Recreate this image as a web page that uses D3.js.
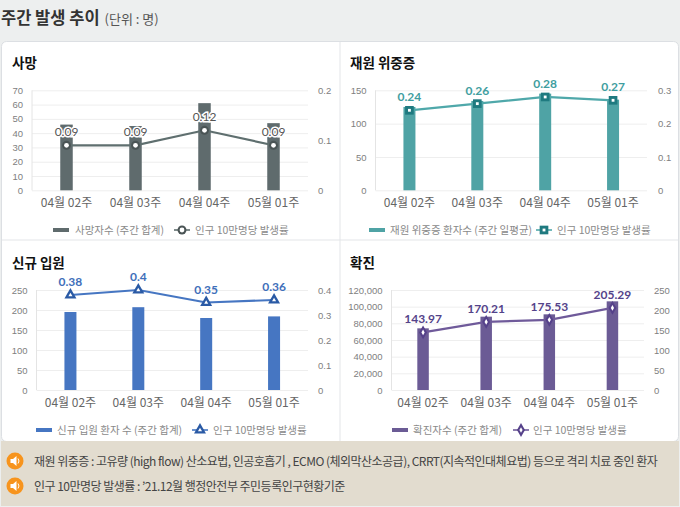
<!DOCTYPE html>
<html>
<head>
<meta charset="utf-8">
<script src="https://cdn.jsdelivr.net/npm/d3@7/dist/d3.min.js"></script>
<style>
    html, body { margin: 0; padding: 0; background: #edefef; }
    svg { display: block; font-family: "Lato", "Noto Sans CJK KR", sans-serif; }
    .kr { font-family: "Noto Sans CJK KR", sans-serif; }
    .domain { display: none; }
    .tick text { fill: #808080; font-size: 9.5px; }
    .x-axis .tick text { fill: #666; font-size: 12px; }
    .legend { fill: #8a8a8a; font-size: 10.5px; }
</style>
</head>
<body>
<svg id="chart" width="680" height="507"></svg>
<script>
// DATA
const weeks = ['04월 02주', '04월 03주', '04월 04주', '05월 01주'];

const deathBars = [46, 45, 61, 47];
const deathRates = [0.09, 0.09, 0.12, 0.09];
const deathTicks = [0, 10, 20, 30, 40, 50, 60, 70];
const deathRateTicks = [0, 0.1, 0.2];

const severeBars = [125, 134, 145, 136];
const severeRates = [0.24, 0.26, 0.28, 0.27];
const severeTicks = [0, 50, 100, 150];
const severeRateTicks = [0, 0.1, 0.2, 0.3];

const admitBars = [195, 207, 180, 184];
const admitRates = [0.38, 0.4, 0.35, 0.36];
const admitTicks = [0, 50, 100, 150, 200, 250];
const admitRateTicks = [0, 0.1, 0.2, 0.3, 0.4];

const caseBars = [74000, 88000, 90800, 106400];
const caseRates = [143.97, 170.21, 175.53, 205.29];
const caseTicks = [0, 20000, 40000, 60000, 80000, 100000, 120000];
const caseRateTicks = [0, 50, 100, 150, 200, 250];

const notes = [
    '재원 위중증 : 고유량 (high flow) 산소요법, 인공호흡기 , ECMO (체외막산소공급), CRRT(지속적인대체요법) 등으로 격리 치료 중인 환자',
    '인구 10만명당 발생률 : ’21.12월 행정안전부 주민등록인구현황기준'
];

const svg = d3.select('#chart');

// PAGE TITLE
const heading = svg.append('text').attr('x', 1).attr('y', 24);
heading.append('tspan').attr('class', 'kr').attr('font-size', 16.5).attr('font-weight', 700).attr('fill', '#333').text('주간 발생 추이');
heading.append('tspan').attr('class', 'kr').attr('dx', 5).attr('font-size', 13).attr('fill', '#555').text('(단위 : 명)');

// PANEL BACKGROUND
svg.append('rect').attr('x', 1.5).attr('y', 41.5).attr('width', 677).attr('height', 400)
    .attr('rx', 5).attr('fill', '#fff').attr('stroke', '#dcdfe3');
svg.append('line').attr('x1', 340).attr('x2', 340).attr('y1', 42).attr('y2', 441).attr('stroke', '#e3e5e8');
svg.append('line').attr('x1', 2).attr('x2', 678).attr('y1', 240).attr('y2', 240).attr('stroke', '#e3e5e8');

// FOOTER
svg.append('rect').attr('x', 1).attr('y', 441).attr('width', 678).attr('height', 65).attr('fill', '#e2dccf');
notes.forEach((note, i) => {
    const cy = 461 + i * 25;
    svg.append('circle').attr('cx', 15).attr('cy', cy).attr('r', 8.5).attr('fill', '#f7941d');
    svg.append('path')
        .attr('d', `M10.5 ${cy - 2}h2.5l3.5 -3v10l-3.5 -3h-2.5z`)
        .attr('fill', '#fff');
    svg.append('path')
        .attr('d', `M18 ${cy - 2.5}q2 2.5 0 5`)
        .attr('fill', 'none').attr('stroke', '#fff');
    svg.append('text').attr('class', 'kr')
        .attr('x', 34).attr('y', cy + 4.5)
        .attr('font-size', 12).attr('letter-spacing', -0.52).attr('fill', '#444')
        .text(note);
});

const symbols = {
    circle: { type: d3.symbolCircle, size: 62, inner: 18 },
    square: { type: d3.symbolSquare, size: 75, inner: 8 },
    triangle: { type: d3.symbolTriangle, size: 62, inner: 7 },
    diamond: { type: d3.symbolDiamond, size: 55, inner: 9 }
};

function drawPanel(p) {
    const g = svg.append('g');

    g.append('text').attr('class', 'kr')
        .attr('x', p.titleX).attr('y', p.titleY)
        .attr('font-size', 13.5).attr('font-weight', 700).attr('fill', '#111')
        .text(p.title);

    const x = d3.scaleBand().domain(weeks).range([p.left, p.right]);
    const yBar = d3.scaleLinear().domain([0, d3.max(p.ticks)]).range([p.bottom, p.top]);
    const yRate = d3.scaleLinear().domain([0, d3.max(p.rateTicks)]).range([p.bottom, p.top]);

    // GRID + LEFT AXIS
    g.append('g')
        .attr('transform', `translate(${p.left},0)`)
        .call(d3.axisLeft(yBar).tickValues(p.ticks).tickSize(-(p.right - p.left)).tickPadding(9).tickFormat(d3.format(',')))
        .call(a => a.selectAll('.tick line').attr('stroke', '#eeeeee'));
    g.append('line')
        .attr('x1', p.left).attr('x2', p.left).attr('y1', p.top).attr('y2', p.bottom)
        .attr('stroke', '#e4e4e4');

    // RIGHT AXIS
    g.append('g')
        .attr('transform', `translate(${p.right},0)`)
        .call(d3.axisRight(yRate).tickValues(p.rateTicks).tickSize(0).tickPadding(p.rightPad).tickFormat(d => d));

    // X AXIS
    g.append('g')
        .attr('class', 'x-axis kr')
        .attr('transform', `translate(0,${p.bottom})`)
        .call(d3.axisBottom(x).tickSize(0).tickPadding(8))
        .call(a => a.selectAll('text').attr('class', 'kr'));

    // BARS
    const barW = p.barW;
    g.append('g').selectAll('rect')
        .data(p.bars)
        .join('rect')
        .attr('x', (d, i) => x(weeks[i]) + x.bandwidth() / 2 - barW / 2)
        .attr('y', d => yBar(d))
        .attr('width', barW)
        .attr('height', d => yBar(0) - yBar(d))
        .attr('fill', p.barColor);

    // RATE LINE
    const line = d3.line()
        .x((d, i) => x(weeks[i]) + x.bandwidth() / 2)
        .y(d => yRate(d));
    g.append('path')
        .attr('d', line(p.rates))
        .attr('fill', 'none')
        .attr('stroke', p.lineColor)
        .attr('stroke-width', 2.2);

    // MARKERS
    const sym = symbols[p.marker];
    const outer = d3.symbol().type(sym.type).size(sym.size);
    const inner = d3.symbol().type(sym.type).size(sym.inner);
    const points = g.append('g').selectAll('g')
        .data(p.rates)
        .join('g')
        .attr('transform', (d, i) => `translate(${x(weeks[i]) + x.bandwidth() / 2},${yRate(d)})`);
    points.append('path').attr('d', outer).attr('fill', p.markerColor);
    points.append('path').attr('d', inner).attr('fill', '#fff');

    // RATE LABELS
    g.append('g').selectAll('text')
        .data(p.rates)
        .join('text')
        .attr('x', (d, i) => x(weeks[i]) + x.bandwidth() / 2)
        .attr('y', d => yRate(d) - p.labelGap)
        .attr('text-anchor', 'middle')
        .attr('font-size', p.labelSize)
        .attr('font-weight', p.labelWeight)
        .attr('fill', p.labelColor)
        .attr('stroke', p.halo ? '#fff' : 'none')
        .attr('stroke-width', p.halo ? 3 : 0)
        .attr('paint-order', 'stroke')
        .text(d => d);

    // LEGEND
    const ly = p.legendY;
    g.append('rect').attr('x', p.legend[0]).attr('y', ly - 2).attr('width', 16).attr('height', 4).attr('fill', p.barColor);
    g.append('text').attr('class', 'kr legend').attr('x', p.legend[1]).attr('y', ly + 4).text(p.barName);
    g.append('line').attr('x1', p.legend[2]).attr('x2', p.legend[2] + 16).attr('y1', ly).attr('y2', ly)
        .attr('stroke', p.lineColor).attr('stroke-width', 1.6);
    const key = g.append('g').attr('transform', `translate(${p.legend[2] + 8},${ly})`);
    key.append('path').attr('d', outer).attr('fill', p.markerColor);
    key.append('path').attr('d', inner).attr('fill', '#fff');
    g.append('text').attr('class', 'kr legend').attr('x', p.legend[3]).attr('y', ly + 4).text('인구 10만명당 발생률');
}

drawPanel({
    title: '사망', titleX: 12, titleY: 68,
    bars: deathBars, rates: deathRates, ticks: deathTicks, rateTicks: deathRateTicks,
    left: 32, right: 308, top: 90.3, bottom: 190.3, rightPad: 10, barW: 12.5,
    barColor: '#5f6b6d', lineColor: '#5f6f6f', markerColor: '#4a5455', marker: 'circle',
    labelColor: '#555', labelSize: 12, labelWeight: 400, labelGap: 9.5, halo: true,
    barName: '사망자수 (주간 합계)', legend: [53, 75, 174, 195], legendY: 230
});

drawPanel({
    title: '재원 위중증', titleX: 350, titleY: 68,
    bars: severeBars, rates: severeRates, ticks: severeTicks, rateTicks: severeRateTicks,
    left: 375.5, right: 647, top: 90.3, bottom: 190.3, rightPad: 11, barW: 12,
    barColor: '#4fa3a5', lineColor: '#4fa8aa', markerColor: '#1f7a80', marker: 'square',
    labelColor: '#3f9ea0', labelSize: 12, labelWeight: 700, labelGap: 9, halo: false,
    barName: '재원 위중증 환자수 (주간 일평균)', legend: [369, 390, 536, 557], legendY: 230
});

drawPanel({
    title: '신규 입원', titleX: 12, titleY: 268,
    bars: admitBars, rates: admitRates, ticks: admitTicks, rateTicks: admitRateTicks,
    left: 36.5, right: 308, top: 290, bottom: 390, rightPad: 10, barW: 12,
    barColor: '#4676c2', lineColor: '#4676c2', markerColor: '#2a5aa5', marker: 'triangle',
    labelColor: '#3f6fba', labelSize: 12, labelWeight: 700, labelGap: 9, halo: false,
    barName: '신규 입원 환자 수 (주간 합계)', legend: [36, 57, 192, 213], legendY: 430
});

drawPanel({
    title: '확진', titleX: 350, titleY: 268,
    bars: caseBars, rates: caseRates, ticks: caseTicks, rateTicks: caseRateTicks,
    left: 391.5, right: 644, top: 290, bottom: 390, rightPad: 10, barW: 11.5,
    barColor: '#6b5b95', lineColor: '#6f5a9a', markerColor: '#55418a', marker: 'diamond',
    labelColor: '#54438a', labelSize: 12, labelWeight: 700, labelGap: 9, halo: false,
    barName: '확진자수 (주간 합계)', legend: [392, 413, 513, 533], legendY: 430
});
</script>
</body>
</html>
